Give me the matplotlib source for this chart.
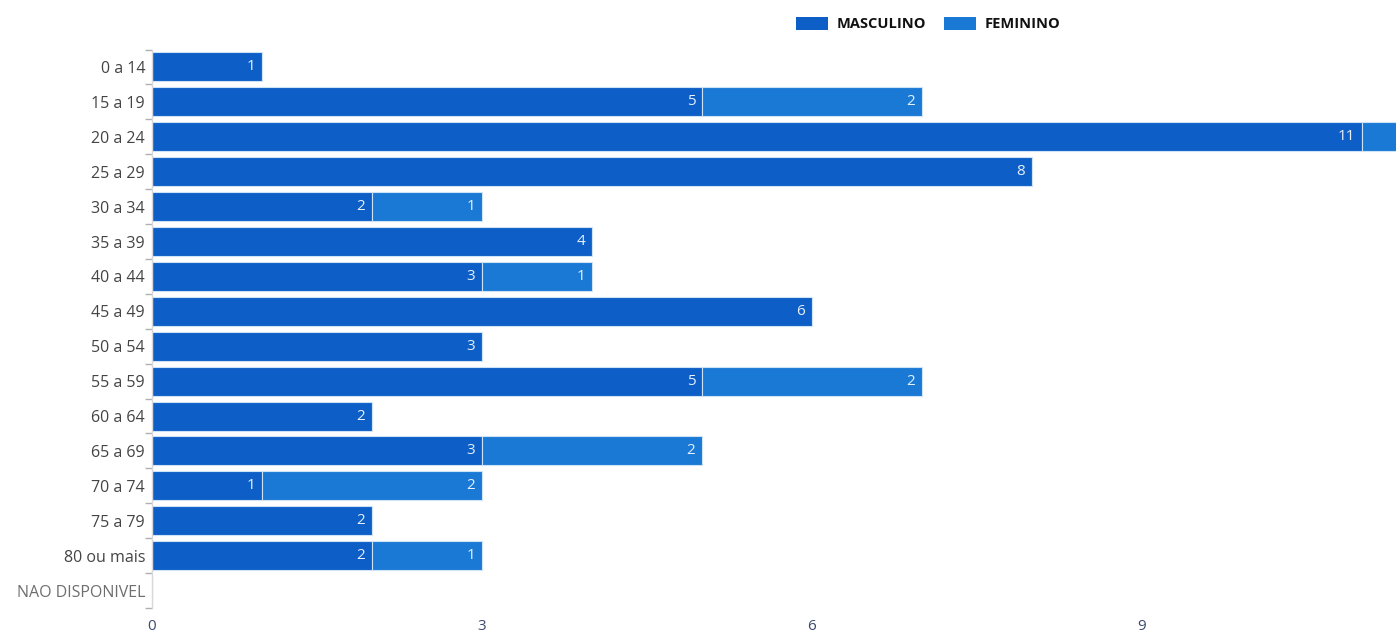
import matplotlib
matplotlib.use("Agg")
import matplotlib.pyplot as plt
from matplotlib.patches import Patch

categories = ["0 a 14", "15 a 19", "20 a 24", "25 a 29", "30 a 34", "35 a 39",
              "40 a 44", "45 a 49", "50 a 54", "55 a 59", "60 a 64", "65 a 69",
              "70 a 74", "75 a 79", "80 ou mais", "NAO DISPONIVEL"]
masculino = [1, 5, 11, 8, 2, 4, 3, 6, 3, 5, 2, 3, 1, 2, 2, 0]
feminino = [0, 2, 1, 0, 1, 0, 1, 0, 0, 2, 0, 2, 2, 0, 1, 0]
series_names = ["MASCULINO", "FEMININO"]
xticks = [0, 3, 6, 9]

C_M = "#0D5EC6"
C_F = "#1A79D4"

plt.rcParams['font.family'] = ['Open Sans', 'DejaVu Sans']

fig = plt.figure(figsize=(13.96, 6.35), dpi=100)
ax = fig.add_axes([0.1089, 0.0425, 0.8911, 0.8795])

y = list(range(len(categories)))
h = 0.83
ax.barh(y, masculino, height=h, color=C_M, edgecolor="#cfe3f7", linewidth=0.8)
ax.barh(y, feminino, left=masculino, height=h, color=C_F, edgecolor="#cfe3f7", linewidth=0.8)

for i, (m, f) in enumerate(zip(masculino, feminino)):
    if m > 0:
        ax.text(m - 0.06, i, str(m), ha="right", va="center", color="#e6f0fb", fontsize=11)
    if f > 0 and m + f <= 11.3:
        ax.text(m + f - 0.06, i, str(f), ha="right", va="center", color="#e6f0fb", fontsize=11)

ax.set_xlim(0, 11.31)
ax.set_ylim(len(categories) - 0.5, -0.5)
ax.set_xticks(xticks)
ax.set_xticklabels([str(t) for t in xticks], color="#3a4a6e", fontsize=11)
ax.tick_params(axis="x", length=0, pad=8)

ax.set_yticks(y)
ax.set_yticklabels(categories, fontsize=11.5, color="#444444")
ax.get_yticklabels()[-1].set_color("#6e6e6e")
ax.tick_params(axis="y", length=0, pad=5)
ax.set_yticks([i - 0.5 for i in range(len(categories) + 1)], minor=True)
ax.tick_params(axis="y", which="minor", length=5, color="#b0b0b0", width=1)

for s in ["top", "right", "bottom"]:
    ax.spines[s].set_visible(False)
ax.spines["left"].set_color("#d8d8d8")
ax.spines["left"].set_linewidth(1)

handles = [Patch(facecolor=C_M, edgecolor="none"), Patch(facecolor=C_F, edgecolor="none")]
leg = fig.legend(handles, series_names, loc="center", bbox_to_anchor=(0.665, 0.962), ncol=2,
                 frameon=False, handlelength=2.2, handleheight=1.0, handletextpad=0.6,
                 columnspacing=1.2, prop={"weight": "bold", "size": 10.5})
for t in leg.get_texts():
    t.set_color("#111111")

fig.savefig("out.png", dpi=100)
